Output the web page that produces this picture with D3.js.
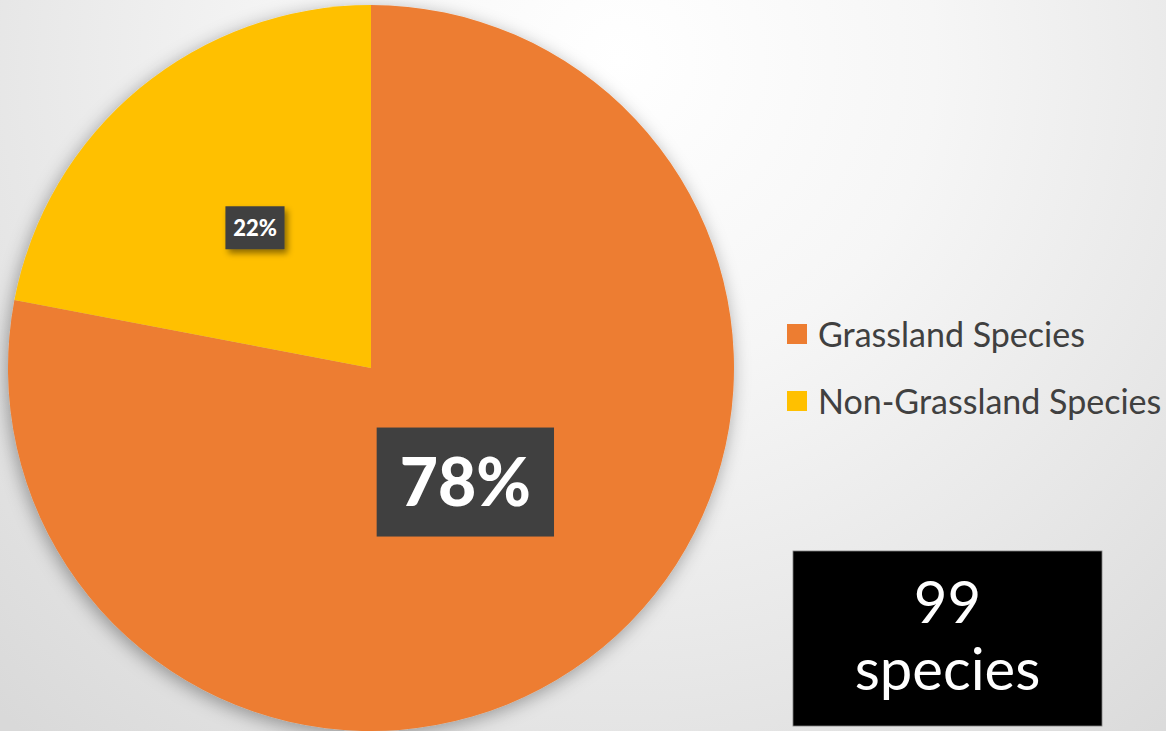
<!DOCTYPE html>
<html>
<head>
<meta charset="utf-8">
<script src="https://cdn.jsdelivr.net/npm/d3@7"></script>
<style>
  html, body { margin: 0; padding: 0; overflow: hidden; }
  svg { display: block; }
</style>
</head>
<body>
<div id="chart"></div>
<script>
// data
const categories = ["Grassland Species", "Non-Grassland Species"];
const shares = [78, 22];
const sliceColors = ["#ED7D31", "#FFC000"];
const labelTexts = ["78%", "22%"];
const totalLines = ["99", "species"];

const width = 1166, height = 731;
const cx = 371, cy = 368, radius = 363;

const svg = d3.select("#chart").append("svg")
    .attr("width", width)
    .attr("height", height);

const defs = svg.append("defs");

// background: soft radial gradient
const bg = defs.append("radialGradient")
    .attr("id", "bg")
    .attr("gradientUnits", "userSpaceOnUse")
    .attr("cx", 620).attr("cy", 60).attr("r", 900);
bg.append("stop").attr("offset", "0%").attr("stop-color", "#ffffff");
bg.append("stop").attr("offset", "35%").attr("stop-color", "#f6f6f6");
bg.append("stop").attr("offset", "100%").attr("stop-color", "#d9d9d9");

const pieShadow = defs.append("filter")
    .attr("id", "pieShadow")
    .attr("x", "-10%").attr("y", "-10%").attr("width", "120%").attr("height", "120%");
pieShadow.append("feDropShadow")
    .attr("dx", -2).attr("dy", 4).attr("stdDeviation", 9)
    .attr("flood-color", "#000").attr("flood-opacity", 0.35);

const boxShadow = defs.append("filter")
    .attr("id", "boxShadow")
    .attr("x", "-30%").attr("y", "-30%").attr("width", "160%").attr("height", "160%");
boxShadow.append("feDropShadow")
    .attr("dx", 3).attr("dy", 4).attr("stdDeviation", 3)
    .attr("flood-color", "#000").attr("flood-opacity", 0.45);

svg.append("rect")
    .attr("width", width).attr("height", height)
    .attr("fill", "url(#bg)");

const pie = d3.pie().sort(null)(shares);
const arc = d3.arc().innerRadius(0).outerRadius(radius);

const g = svg.append("g")
    .attr("transform", "translate(" + cx + "," + cy + ")");

g.append("g")
    .attr("filter", "url(#pieShadow)")
  .selectAll("path")
  .data(pie)
  .join("path")
    .attr("d", arc)
    .attr("fill", (d, i) => sliceColors[i]);

// data labels (best-fit style, different distance per slice)
const labelRadius = [148, 182];
const labelSize = [66, 22];

const labels = g.selectAll(".lbl")
  .data(pie)
  .join("g")
    .attr("class", "lbl")
    .attr("transform", (d, i) => {
      const a = (d.startAngle + d.endAngle) / 2;
      return "translate(" + (Math.sin(a) * labelRadius[i]) + "," + (-Math.cos(a) * labelRadius[i]) + ")";
    });

labels.each(function(d, i) {
  const sel = d3.select(this);
  const fs = labelSize[i];
  const rect = sel.append("rect")
      .attr("fill", "#404040")
      .attr("filter", i === 1 ? "url(#boxShadow)" : null);
  const t = sel.append("text")
      .attr("text-anchor", "middle")
      .attr("dy", "0.36em")
      .attr("fill", "#ffffff")
      .attr("font-family", "Lato, 'Open Sans', sans-serif")
      .attr("font-weight", 900)
      .attr("font-size", fs)
      .text(labelTexts[i]);
  const w = t.node().getComputedTextLength() + fs * 0.7;
  const h = fs * 1.5 + 10;
  rect.attr("x", -w / 2).attr("y", -h / 2).attr("width", w).attr("height", h);
});

// legend
const legendX = 787, legendY = 334, legendStep = 67;
const legend = svg.append("g").selectAll("g")
  .data(categories)
  .join("g")
    .attr("transform", (d, i) => "translate(" + legendX + "," + (legendY + i * legendStep) + ")");

legend.append("rect")
    .attr("x", 0).attr("y", -10)
    .attr("width", 20).attr("height", 20)
    .attr("fill", (d, i) => sliceColors[i]);

legend.append("text")
    .attr("x", 31).attr("y", 13)
    .attr("fill", "#404040")
    .attr("font-family", "Lato, 'Open Sans', sans-serif")
    .attr("font-size", 30)
    .text(d => d);

// fit legend text to the reference width of "Grassland Species"
const first = legend.select("text").node();
const scale = 267 / first.getComputedTextLength();
legend.selectAll("text").attr("font-size", 30 * scale);

// total box
const box = svg.append("g").attr("transform", "translate(793,551)");
box.append("rect")
    .attr("width", 309).attr("height", 175)
    .attr("fill", "#000")
    .attr("stroke", "#7f7f7f").attr("stroke-width", 0.8);
box.selectAll("text")
  .data(totalLines)
  .join("text")
    .attr("x", 154.5)
    .attr("y", (d, i) => 72 + i * 67)
    .attr("text-anchor", "middle")
    .attr("fill", "#ffffff")
    .attr("font-family", "Lato, 'Open Sans', sans-serif")
    .attr("font-size", 58)
    .text(d => d);
</script>
</body>
</html>
